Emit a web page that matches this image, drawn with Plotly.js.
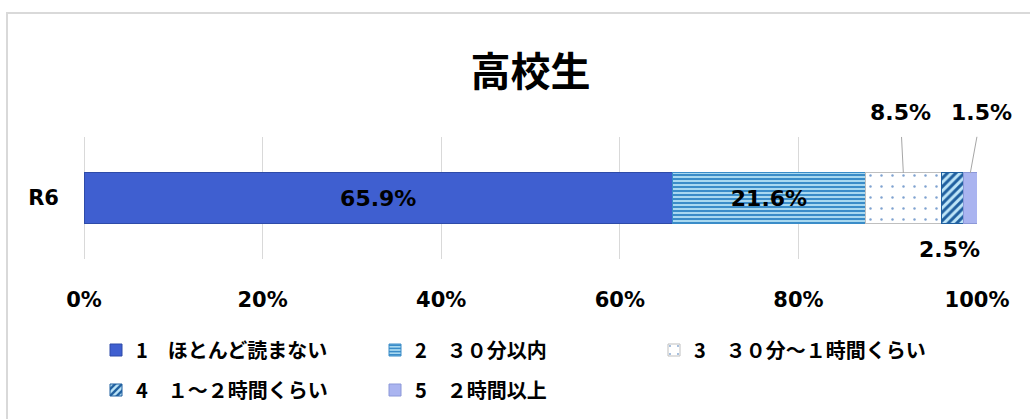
<!DOCTYPE html>
<html>
<head>
<meta charset="utf-8">
<script src="https://cdn.plot.ly/plotly-3.0.1.min.js"></script>
<style>
html,body{margin:0;padding:0;background:#fff;}
#chart{width:1030px;height:419px;}
</style>
</head>
<body>
<div id="chart"></div>
<script>
// ---- data ----
const titleText = '高校生';
const categories = ['R6'];
const seriesNames = ['1\u3000ほとんど読まない', '2\u3000３０分以内', '3\u3000３０分～１時間くらい', '4\u3000１～２時間くらい', '5\u3000２時間以上'];
const s1 = [65.9];
const s2 = [21.6];
const s3 = [8.5];
const s4 = [2.5];
const s5 = [1.5];
const xTickVals = [0, 20, 40, 60, 80, 100];
const xTickText = ['0%', '20%', '40%', '60%', '80%', '100%'];

// ---- layout constants ----
const W = 1030, H = 419;
const M = {l: 84, r: 53, t: 137, b: 160};
const barW = 0.41;
const latin = 'DejaVu Sans, "Noto Sans CJK JP", sans-serif';
const cjk = '"Noto Sans CJK JP", DejaVu Sans, sans-serif';

const values = [s1, s2, s3, s4, s5];
const styles = [
  {color: '#3F5FD0', line: '#2E4BA8', pattern: null},
  {color: '#A8D8F0', line: '#3A8CC8', pattern: {shape: '-', bgcolor: '#A8D8F0', fgcolor: '#3A8CC8', size: 4, solidity: 0.5}},
  {color: '#FFFFFF', line: '#BFBFBF', pattern: {shape: '.', bgcolor: '#FFFFFF', fgcolor: '#7FA3D0', size: 11, solidity: 0.04}},
  {color: '#BDE5F8', line: '#1F5F9F', pattern: {shape: '/', bgcolor: '#BDE5F8', fgcolor: '#1F5F9F', size: 6, solidity: 0.5}},
  {color: '#AAB4F0', line: '#8C98D8', pattern: null}
];
const insideLabel = [true, true, false, false, false];

const traces = values.map((v, i) => {
  const mk = {color: styles[i].color, line: {color: styles[i].line, width: 1}};
  if (styles[i].pattern) mk.pattern = styles[i].pattern;
  return {
    type: 'bar', orientation: 'h',
    x: v, y: categories, name: seriesNames[i],
    width: barW,
    marker: mk,
    text: insideLabel[i] ? v.map(d => d.toFixed(1) + '%') : undefined,
    textposition: insideLabel[i] ? 'inside' : 'none',
    insidetextanchor: 'middle',
    textfont: {family: latin, size: 22, color: '#000', weight: 'bold'},
    hoverinfo: 'skip',
    legend: i < 3 ? 'legend' : 'legend2'
  };
});

// cumulative centres for outside labels
const cum = [];
let acc = 0;
values.forEach(v => { cum.push(acc + v[0] / 2); acc += v[0]; });

const annFont = {family: latin, size: 22, color: '#000', weight: 'bold'};
const annotations = [
  {x: cum[2], y: barW / 2, xref: 'x', yref: 'y', text: s3[0].toFixed(1) + '%', showarrow: true,
   arrowhead: 0, arrowwidth: 1, arrowcolor: '#A6A6A6', ax: -3, ay: -60, startstandoff: 10, font: annFont},
  {x: cum[4], y: barW / 2, xref: 'x', yref: 'y', text: s5[0].toFixed(1) + '%', showarrow: true,
   arrowhead: 0, arrowwidth: 1, arrowcolor: '#A6A6A6', ax: 11, ay: -60, startstandoff: 10, font: annFont},
  {x: cum[3], y: -barW / 2, xref: 'x', yref: 'y', text: s4[0].toFixed(1) + '%', showarrow: false,
   yanchor: 'middle', yshift: -26, xshift: -3, font: annFont}
];

// outer border (chart area frame) in paper coords
const pw = W - M.l - M.r, ph = H - M.t - M.b;
const px = p => (p - M.l) / pw;
const py = p => (H - M.b - p) / ph;

const legFont = {family: cjk, size: 20, color: '#000', weight: 'bold'};
const layout = {
  width: W, height: H,
  margin: M,
  paper_bgcolor: '#FFFFFF', plot_bgcolor: '#FFFFFF',
  barmode: 'stack',
  title: {text: titleText, font: {family: cjk, size: 40, color: '#000', weight: 'bold'},
          x: 0.5, xref: 'paper', xanchor: 'center', y: 1 - 72 / H, yref: 'container', yanchor: 'middle'},
  xaxis: {range: [0, 100], tickvals: xTickVals, ticktext: xTickText, showgrid: true, gridcolor: '#D9D9D9', gridwidth: 1,
          zeroline: true, zerolinecolor: '#D9D9D9', zerolinewidth: 1, showline: false, ticks: '',
          ticklabelstandoff: 26, tickfont: {family: latin, size: 21, color: '#000', weight: 'bold'}, fixedrange: true},
  yaxis: {type: 'category', range: [-0.5, 0.5], showgrid: false, zeroline: false, showline: false, ticks: '',
          ticklabelstandoff: 24, tickfont: {family: latin, size: 21, color: '#000', weight: 'bold'}, fixedrange: true},
  showlegend: true,
  legend: {orientation: 'h', xref: 'container', yref: 'container', x: 96 / W, xanchor: 'left', y: 1 - 350 / H, yanchor: 'middle',
           entrywidth: 234, traceorder: 'normal', font: legFont, bgcolor: 'rgba(0,0,0,0)'},
  legend2: {orientation: 'h', xref: 'container', yref: 'container', x: 96 / W, xanchor: 'left', y: 1 - 390 / H, yanchor: 'middle',
           entrywidth: 234, traceorder: 'normal', font: legFont, bgcolor: 'rgba(0,0,0,0)'},
  annotations: annotations,
  shapes: [{type: 'rect', xref: 'paper', yref: 'paper', x0: px(7), x1: px(W + 20), y0: py(13), y1: py(H + 20),
            line: {color: '#D9D9D9', width: 2}, fillcolor: 'rgba(0,0,0,0)', layer: 'below'}]
};

Plotly.newPlot('chart', traces, layout, {displayModeBar: false, staticPlot: true});
</script>
</body>
</html>
